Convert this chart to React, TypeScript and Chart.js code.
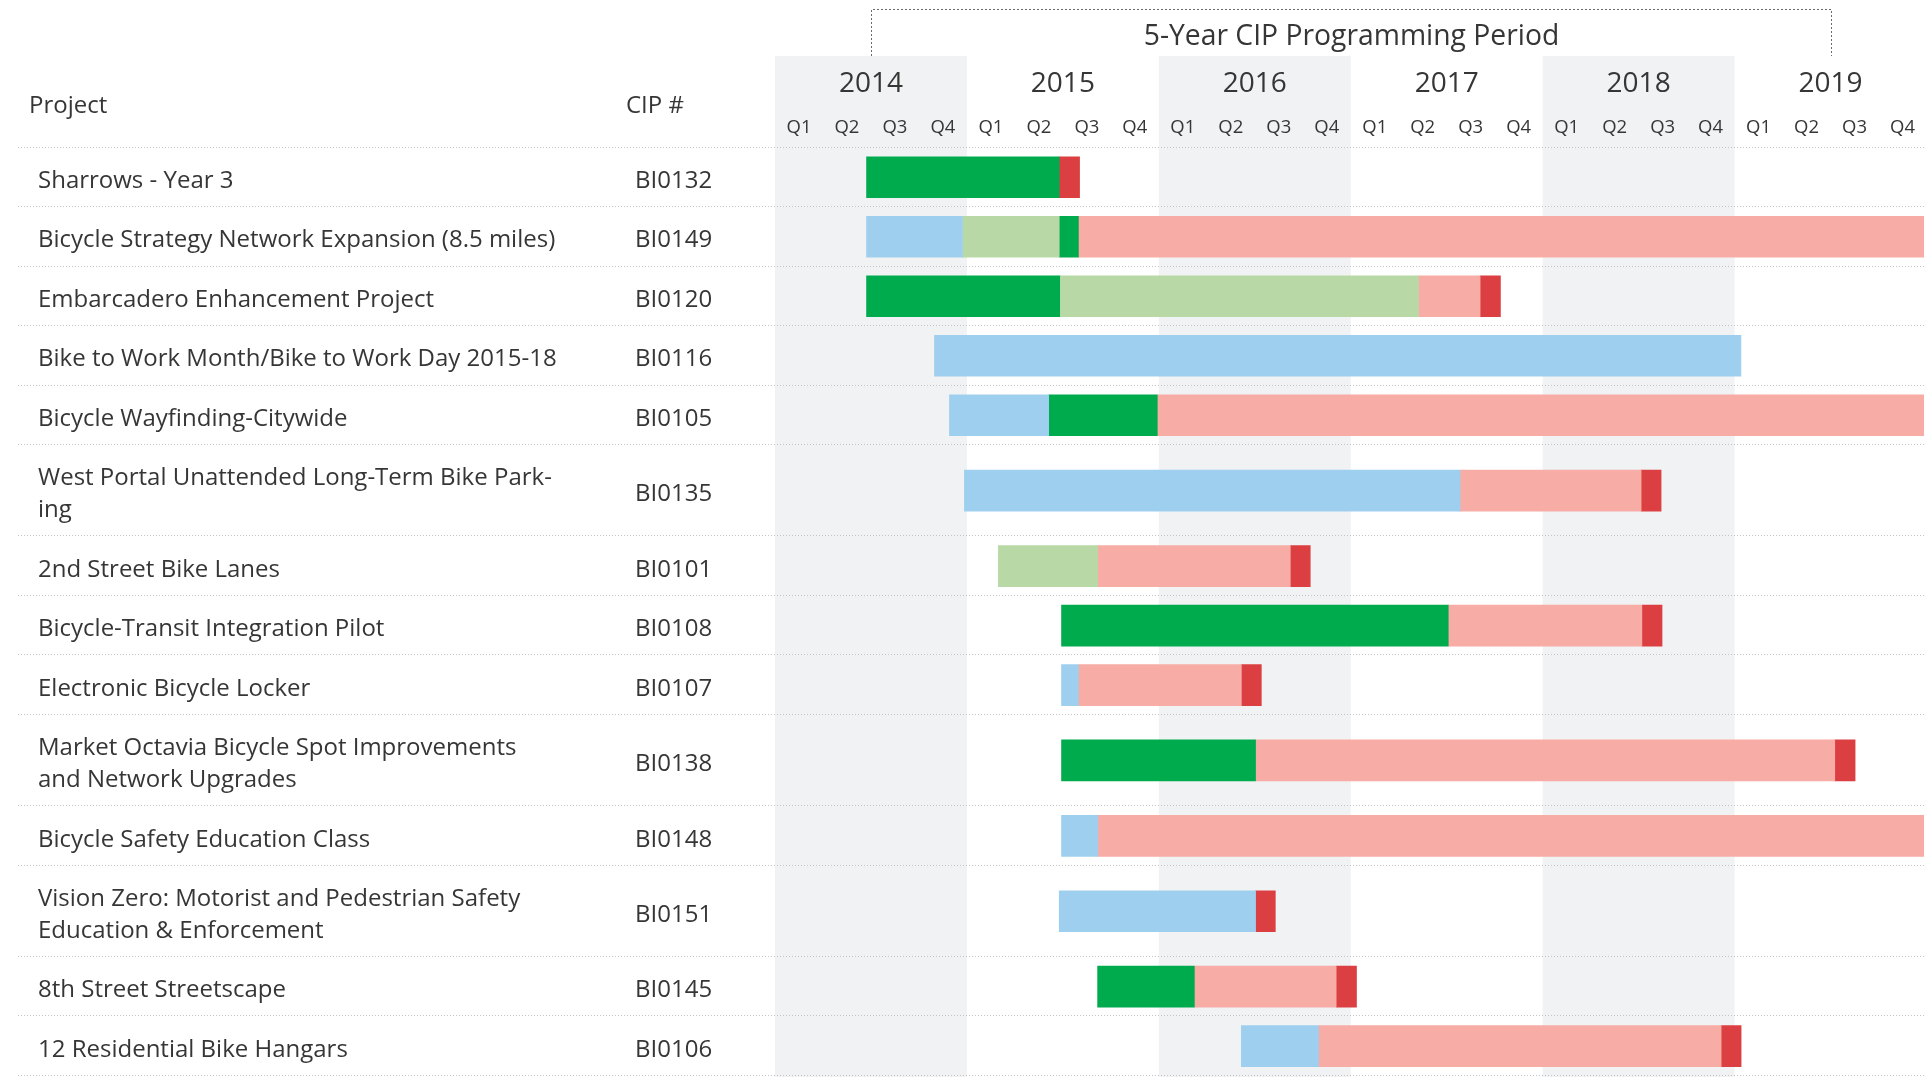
import React, { useEffect, useRef } from "react";
import { Chart, registerables } from "chart.js";

Chart.register(...registerables);

// ---------- data ----------
const projects = [
  "Sharrows - Year 3",
  "Bicycle Strategy Network Expansion (8.5 miles)",
  "Embarcadero Enhancement Project",
  "Bike to Work Month/Bike to Work Day 2015-18",
  "Bicycle Wayfinding-Citywide",
  "West Portal Unattended Long-Term Bike Park-\ning",
  "2nd Street Bike Lanes",
  "Bicycle-Transit Integration Pilot",
  "Electronic Bicycle Locker",
  "Market Octavia Bicycle Spot Improvements\nand Network Upgrades",
  "Bicycle Safety Education Class",
  "Vision Zero: Motorist and Pedestrian Safety\nEducation & Enforcement",
  "8th Street Streetscape",
  "12 Residential Bike Hangars",
];

const cipNumbers = [
  "BI0132", "BI0149", "BI0120", "BI0116", "BI0105", "BI0135", "BI0101",
  "BI0108", "BI0107", "BI0138", "BI0148", "BI0151", "BI0145", "BI0106",
];

const yearLabels = ["2014", "2015", "2016", "2017", "2018", "2019"];
const quarterLabels = ["Q1", "Q2", "Q3", "Q4"];
const periodTitle = "5-Year CIP Programming Period";
const periodStart = 2014.5;
const periodEnd = 2019.5;

type Span = [number, number] | null;

// light blue phase
const phaseBlue: Span[] = [
  null, [2014.477, 2014.977], null, [2014.831, 2019.033], [2014.909, 2015.426],
  [2014.987, 2017.570], null, null, [2015.493, 2015.581], null,
  [2015.493, 2015.682], [2015.481, 2016.504], null, [2016.430, 2016.832],
];
// light green phase
const phaseLightGreen: Span[] = [
  null, [2014.977, 2015.481], [2015.487, 2017.353], null, null,
  null, [2015.164, 2015.681], null, null, null,
  null, null, null, null,
];
// dark green phase
const phaseGreen: Span[] = [
  [2014.477, 2015.481], [2015.481, 2015.581], [2014.477, 2015.487], null, [2015.426, 2015.992],
  null, null, [2015.493, 2017.508], null, [2015.493, 2016.504],
  null, null, [2015.681, 2016.185], null,
];
// pink phase
const phasePink: Span[] = [
  null, [2015.581, 2020.2], [2017.353, 2017.674], null, [2015.992, 2020.2],
  [2017.570, 2018.513], [2015.681, 2016.685], [2017.508, 2018.517], [2015.581, 2016.430], [2016.504, 2019.522],
  [2015.682, 2020.2], null, [2016.185, 2016.924], [2016.832, 2018.930],
];
// red phase
const phaseRed: Span[] = [
  [2015.481, 2015.587], null, [2017.674, 2017.780], null, null,
  [2018.513, 2018.617], [2016.685, 2016.789], [2018.517, 2018.622], [2016.430, 2016.534], [2019.522, 2019.628],
  null, [2016.504, 2016.607], [2016.924, 2017.030], [2018.930, 2019.034],
];

// ---------- layout / style ----------
const W = 1924;
const H = 1077;
const FONT = "'Open Sans', Lato, sans-serif";
const TEXT = "#363636";
const BAND = "#f1f2f4";
const LINE_H = 31.8;
const ROW_PAD = 27.7;

const rowHeights = projects.map((p) => ROW_PAD + LINE_H * p.split("\n").length);
const rowTops: number[] = [];
rowHeights.reduce((acc, h) => {
  rowTops.push(acc);
  return acc + h;
}, 0);
const totalRows = rowHeights.reduce((a, b) => a + b, 0);
const rowCenters = rowTops.map((t, i) => t + rowHeights[i] / 2);

function toPoints(spans: Span[]) {
  const out: { x: [number, number]; y: number }[] = [];
  spans.forEach((s, i) => {
    if (s) out.push({ x: s, y: rowCenters[i] });
  });
  return out;
}

const ganttPlugin = {
  id: "ganttDecor",
  beforeDatasetsDraw(chart: any) {
    const { ctx, scales } = chart;
    const xs = scales.x;
    const ys = scales.y;
    ctx.save();
    // alternating year bands
    yearLabels.forEach((y, i) => {
      if (i % 2 === 0) {
        const yr = Number(y);
        const x0 = xs.getPixelForValue(yr);
        const x1 = xs.getPixelForValue(yr + 1);
        ctx.fillStyle = BAND;
        ctx.fillRect(x0, 56, x1 - x0, H - 56);
      }
    });
    // dotted row separators
    ctx.strokeStyle = "#c4c4c4";
    ctx.lineWidth = 1;
    ctx.setLineDash([1, 2]);
    const bounds = [...rowTops, totalRows];
    bounds.forEach((b) => {
      const py = Math.round(ys.getPixelForValue(b)) - 0.5;
      ctx.beginPath();
      ctx.moveTo(18, py);
      ctx.lineTo(W, py);
      ctx.stroke();
    });
    ctx.setLineDash([]);
    ctx.restore();
  },
  afterDatasetsDraw(chart: any) {
    const { ctx, scales } = chart;
    const xs = scales.x;
    const ys = scales.y;
    ctx.save();
    // bracket
    const bx0 = Math.round(xs.getPixelForValue(periodStart)) + 0.5;
    const bx1 = Math.round(xs.getPixelForValue(periodEnd)) + 0.5;
    ctx.strokeStyle = "#6a6a6a";
    ctx.lineWidth = 1;
    ctx.setLineDash([2, 2]);
    ctx.beginPath();
    ctx.moveTo(bx0, 56);
    ctx.lineTo(bx0, 9.5);
    ctx.lineTo(bx1, 9.5);
    ctx.lineTo(bx1, 56);
    ctx.stroke();
    ctx.setLineDash([]);

    ctx.fillStyle = TEXT;
    ctx.textBaseline = "alphabetic";
    // title
    ctx.textAlign = "center";
    ctx.font = `28.3px ${FONT}`;
    ctx.fillText(periodTitle, (bx0 + bx1) / 2, 45);
    // years and quarters
    yearLabels.forEach((y) => {
      const yr = Number(y);
      ctx.font = `28px ${FONT}`;
      ctx.fillText(y, xs.getPixelForValue(yr + 0.5), 91.5);
      ctx.font = `18.5px ${FONT}`;
      quarterLabels.forEach((q, qi) => {
        ctx.fillText(q, xs.getPixelForValue(yr + 0.125 + qi * 0.25), 132.5);
      });
    });
    // headers
    ctx.textAlign = "left";
    ctx.font = `24px ${FONT}`;
    ctx.fillText("Project", 29, 112.5);
    ctx.fillText("CIP #", 626, 112.5);
    // row labels
    projects.forEach((p, i) => {
      const cy = ys.getPixelForValue(rowCenters[i]);
      const lines = p.split("\n");
      lines.forEach((ln, k) => {
        const by = cy + 10.7 + (k - (lines.length - 1) / 2) * LINE_H;
        ctx.fillText(ln, 38, by);
      });
      ctx.fillText(cipNumbers[i], 635, cy + 10.7);
    });
    ctx.restore();
  },
};

export default function App() {
  const ref = useRef<HTMLCanvasElement | null>(null);
  useEffect(() => {
    if (!ref.current) return;
    const mk = (label: string, spans: Span[], color: string) => ({
      label,
      data: toPoints(spans) as any,
      backgroundColor: color,
      borderWidth: 0,
      barThickness: 41,
      grouped: false,
    });
    const chart = new Chart(ref.current, {
      type: "bar",
      data: {
        datasets: [
          mk("Planning", phaseBlue, "#9fcfee"),
          mk("Design", phaseLightGreen, "#b8d9a6"),
          mk("Construction", phaseGreen, "#00ab4e"),
          mk("Remaining", phasePink, "#f7aca6"),
          mk("Closeout", phaseRed, "#dc3f41"),
        ],
      },
      options: {
        indexAxis: "y",
        responsive: false,
        animation: false,
        devicePixelRatio: 1,
        layout: { padding: { left: 775, right: 0, top: 147.5, bottom: 1.1 } },
        plugins: { legend: { display: false }, tooltip: { enabled: false } },
        scales: {
          x: { type: "linear", min: 2014, max: 2019.987, display: false, offset: false },
          y: { type: "linear", min: 0, max: totalRows, reverse: true, display: false, offset: false },
        },
      },
      plugins: [ganttPlugin],
    });
    return () => chart.destroy();
  }, []);
  return (
    <div style={{ position: "absolute", left: 0, top: 0, width: W, height: H, background: "#fff" }}>
      <canvas ref={ref} width={W} height={H} style={{ display: "block" }} />
    </div>
  );
}
